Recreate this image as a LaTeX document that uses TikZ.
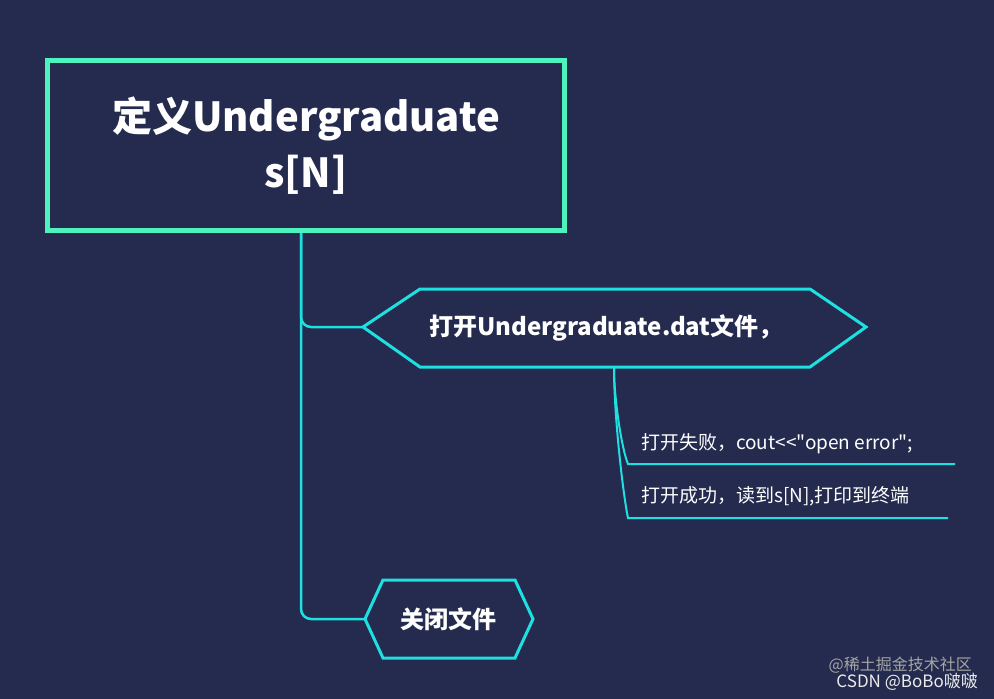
\documentclass[tikz,border=0pt]{standalone}
\usepackage{fontspec}
\defaultfontfeatures{Ligatures=TeXOff}
\setmainfont{Noto Sans CJK SC}[Ligatures=TeXOff]
\usetikzlibrary{calc}
\definecolor{bg}{HTML}{242B4E}
\definecolor{mint}{HTML}{4EF2BE}
\definecolor{cy}{HTML}{1EE0E0}
\tikzset{x=1pt,y=-1pt,
 conn/.style={cy,line width=2.5pt,rounded corners=10pt},
 hexa/.style={cy,line width=3pt,fill=bg},
 wt/.style={text=white,inner sep=0pt}}
\begin{document}
\begin{tikzpicture}
\fill[bg] (0,0) rectangle (994,699);
\useasboundingbox (0,0) rectangle (994,699);
% connectors
\coordinate (r) at (301,228);
\coordinate (h1) at (363,327);
\coordinate (h2) at (365,619);
\draw[conn] (r) |- (h1);
\draw[conn] (r) |- (h2);
\coordinate (b) at (614,367);
\coordinate (e1) at (955,464);
\coordinate (e2) at (948,518);
\draw[cy,line width=2pt] (b) .. controls (614,400) and (622,450) .. (628,464) -- (e1);
\draw[cy,line width=2pt] (b) .. controls (614,420) and (624,500) .. (628,518) -- (e2);
% root
\node[draw=mint,line width=5pt,fill=bg,minimum width=517pt,minimum height=170pt,anchor=north west,wt,align=center,font=\bfseries\fontsize{40}{56}\selectfont] (root) at (45,58) {定义Undergraduate\\s[N]};
% hexagons
\draw[hexa] (363,327) -- (420,289) -- (810,289) -- (866,327) -- (810,367) -- (420,367) -- cycle;
\node[wt,font=\bfseries\fontsize{24}{28}\selectfont] (t1) at (606,328) {打开Undergraduate.dat文件，};
\draw[hexa] (365,619) -- (383,580) -- (515,580) -- (533,619) -- (515,658) -- (383,658) -- cycle;
\node[wt,font=\bfseries\fontsize{24}{28}\selectfont] (t2) at (448,619) {关闭文件};
\node[wt,anchor=west,font=\fontsize{19}{22}\selectfont] (s1) at (641,444) {打开失败，cout<{}<\symbol{34}open error\symbol{34};};
\node[wt,anchor=west,font=\fontsize{19}{22}\selectfont] (s2) at (641,496) {打开成功，读到s[N],打印到终端};
\node[text=gray!70,anchor=east,inner sep=0pt,font=\fontsize{16}{18}\selectfont] (w1) at (972,665) {@稀土掘金技术社区};
\node[text=white!85!gray,anchor=east,inner sep=0pt,font=\fontsize{17}{18}\selectfont] (w2) at (978,682) {CSDN @BoBo啵啵};
\end{tikzpicture}
\end{document}
